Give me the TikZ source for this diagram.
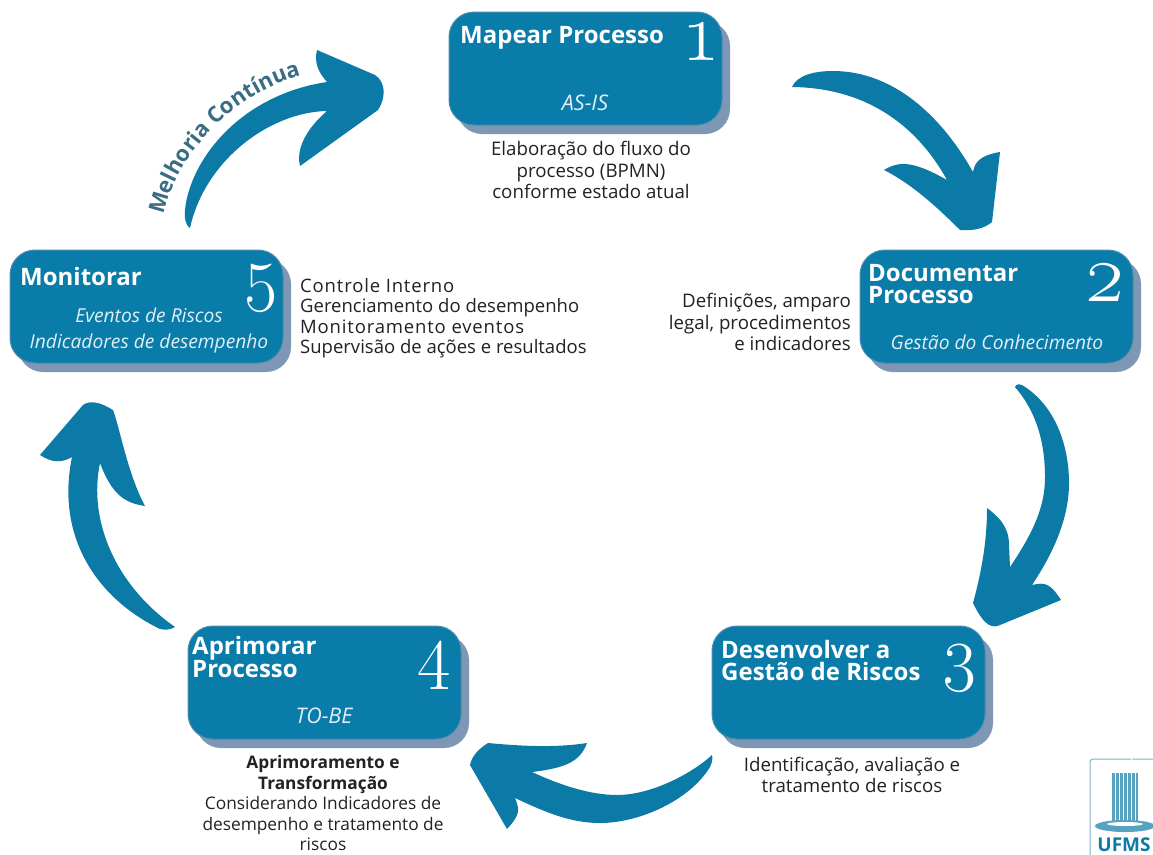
\documentclass[tikz,border=0pt]{standalone}
\usepackage{fontspec}
\setmainfont{Open Sans}
\newfontfamily\numfont[Numbers=OldStyle]{Latin Modern Roman}
\usetikzlibrary{decorations.text}
\definecolor{boxblue}{HTML}{0A7CA9}
\definecolor{boxshade}{HTML}{7E97B4}
\definecolor{arrowblue}{HTML}{0C7AA6}
\definecolor{curvetext}{HTML}{3A6C84}
\definecolor{captiontext}{HTML}{222222}
\definecolor{logoedge}{HTML}{7FB2C8}
\tikzset{
  flowbox/.style={fill=boxblue,draw=boxshade!60!boxblue,line width=1pt,rounded corners=25pt},
  boxback/.style={fill=boxshade,rounded corners=25pt},
  boxtitle/.style={anchor=west,inner sep=0pt,text=white,font=\fontsize{24}{22}\selectfont\bfseries,align=left},
  boxnum/.style={inner sep=0pt,anchor=base,text=white,font=\fontsize{82}{82}\numfont},
  boxnumtall/.style={boxnum,font=\fontsize{72}{72}\numfont},
  boxsub/.style={inner sep=0pt,text=white!88!boxblue,font=\fontsize{19.2}{26}\selectfont\itshape,align=center},
  boxsubshort/.style={boxsub,font=\fontsize{21.5}{26}\selectfont\itshape},
  caption/.style={inner sep=0pt,text=captiontext,font=\fontsize{18.7}{21.5}\selectfont},
  bigarrow/.style={fill=arrowblue}
}
\newcommand{\flowboxat}[3]{%
  \fill[boxback] (#1+8,#2+9) rectangle ++(273,113);
  \path[flowbox] (#1,#2) rectangle ++(273,113) node[pos=.5,inner sep=0pt] (#3) {};
}
\begin{document}
\begin{tikzpicture}[x=1pt,y=-1pt]
\useasboundingbox (0,0) rectangle (1153,854);
\fill[white] (0,0) rectangle (1153,854);

% boxes
\flowboxat{449}{12}{boxa}
\flowboxat{860}{250}{boxb}
\flowboxat{712}{626}{boxc}
\flowboxat{188}{626}{boxd}
\flowboxat{10}{250}{boxe}

% box 1
\node[boxtitle] (t1) at (460,38) {Mapear Processo};
\node[boxnum] (n1) at (701,60) {1};
\node[boxsubshort] (s1) at (585,103) {AS-IS};
\node[caption,align=center] (c1) at (591,170) {Elaboração do fluxo do\\processo (BPMN)\\conforme estado atual};

% box 2
\node[boxtitle] (t2) at (868,284) {Documentar\\Processo};
\node[boxnum] (n2) at (1105,301) {2};
\node[boxsub] (s2) at (997,342) {Gestão do Conhecimento};
\node[caption,align=right,anchor=east] (c2) at (851,322) {Definições, amparo\\legal, procedimentos\\e indicadores};

% box 3
\node[boxtitle] (t3) at (721,660) {Desenvolver a\\Gestão de Riscos};
\node[boxnumtall] (n3) at (960,677) {3};
\node[caption,align=center] (c3) at (852,775) {Identificação, avaliação e\\tratamento de riscos};

% box 4
\node[boxtitle] (t4) at (192,657) {Aprimorar\\Processo};
\node[boxnumtall] (n4) at (434,675) {4};
\node[boxsubshort] (s4) at (324,716) {TO-BE};
\node[caption,align=center,font=\fontsize{17.3}{20.5}\selectfont] (c4) at (323,803) {{\bfseries Aprimoramento e}\\{\bfseries Transformação}\\Considerando Indicadores de\\desempenho e tratamento de\\riscos};

% box 5
\node[boxtitle] (t5) at (20,276) {Monitorar};
\node[boxnumtall] (n5) at (261,297) {5};
\node[boxsub] (s5) at (149,330) {Eventos de Riscos\\Indicadores de desempenho};
\node[caption,align=left,anchor=west,font=\fontsize{18.5}{20.5}\selectfont] (c5) at (300,318) {{\addfontfeature{LetterSpace=4.5}Controle Interno}\\Gerenciamento do desempenho\\{\addfontfeature{LetterSpace=4.5}Monitoramento eventos}\\Supervisão de ações e resultados};

% arrow: 1 to 2
\fill[bigarrow] (792,87) .. controls (797,75) and (815,71) .. (833,71)
  .. controls (885,71) and (935,105) .. (973,172)
  .. controls (975,160) and (983,155) .. (1000,152)
  -- (992,222) .. controls (985,228) and (975,231) .. (960,230)
  .. controls (935,205) and (910,183) .. (884,170)
  .. controls (900,160) and (915,162) .. (947,180)
  .. controls (925,140) and (880,88) .. (792,87) -- cycle;

% arrow: 2 to 3
\fill[bigarrow] (1015,387) .. controls (1016,384) and (1019,384) .. (1022,385)
  .. controls (1055,405) and (1069,445) .. (1069,483)
  .. controls (1069,520) and (1052,555) .. (1032,585)
  .. controls (1045,582) and (1050,583) .. (1061,600)
  -- (1000,625) .. controls (993,628) and (985,628) .. (973,603)
  .. controls (982,570) and (987,540) .. (987,508)
  .. controls (1003,520) and (1009,530) .. (1009,545) -- (1010,567)
  .. controls (1035,530) and (1045,505) .. (1045,477)
  .. controls (1045,440) and (1035,410) .. (1015,387) -- cycle;

% arrow: 3 to 4
\fill[bigarrow] (712,755) .. controls (713,758) and (712,763) .. (710,767)
  .. controls (690,800) and (640,823) .. (600,823)
  .. controls (570,823) and (545,812) .. (515,798)
  .. controls (520,810) and (520,815) .. (507,829)
  -- (470,765) .. controls (472,755) and (480,748) .. (488,743)
  .. controls (520,746) and (555,748) .. (587,743)
  .. controls (580,762) and (565,768) .. (532,772)
  .. controls (560,785) and (590,795) .. (617,795)
  .. controls (650,795) and (690,775) .. (712,755) -- cycle;

% arrow: 4 to 5
\fill[bigarrow] (175,627) .. controls (170,630) and (165,630) .. (160,629)
  .. controls (100,600) and (55,540) .. (72,457)
  .. controls (62,463) and (52,463) .. (40,455)
  -- (83,405) .. controls (90,400) and (100,402) .. (113,410)
  .. controls (119,425) and (128,475) .. (145,506)
  .. controls (125,503) and (112,495) .. (100,463)
  .. controls (88,520) and (115,585) .. (175,627) -- cycle;

% arrow: 5 to 1
\fill[bigarrow] (190,228) .. controls (186,226) and (184,218) .. (185,210)
  .. controls (190,160) and (240,95) .. (327,82)
  .. controls (318,72) and (314,62) .. (317,50)
  -- (375,75) .. controls (386,82) and (386,98) .. (378,110)
  -- (300,166) .. controls (296,150) and (305,130) .. (327,111)
  .. controls (270,112) and (205,160) .. (190,228) -- cycle;

% curved label
\path[decorate,decoration={text along path,text align={align=center},
  text={|\fontsize{22}{22}\selectfont\bfseries\color{curvetext}|Melhoria Contínua}}]
  (163,220) .. controls (174,160) and (227,95) .. (306,74);

% logo
\draw[logoedge,line width=1pt,rounded corners=3pt] (1090,860) -- (1090,759) -- (1160,759);
\fill[arrowblue!70!white] (1112,773) rectangle (1138,823);
\foreach \px/\py in {1115/771,1119/770,1123/768,1127/766,1131/764,1135/774}{
  \fill[white] (\px,\py-6) rectangle (\px+1.3,824);
}
\fill[arrowblue!70!white] (1125,826) ellipse (30 and 6);
\fill[white] (1125,824) ellipse (18 and 2);
\node[inner sep=0pt,text=arrowblue,font=\fontsize{19}{19}\selectfont\bfseries] (logo) at (1124,845) {UFMS};
\end{tikzpicture}
\end{document}
